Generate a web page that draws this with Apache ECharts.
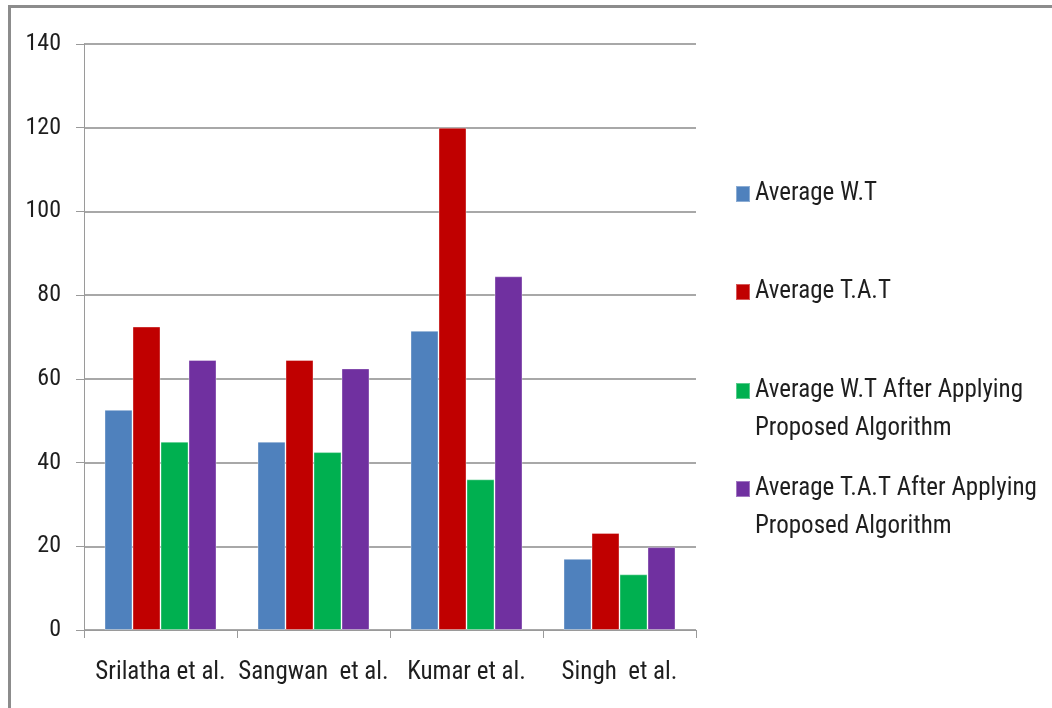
<!DOCTYPE html>
<html>
<head>
<meta charset="utf-8">
<title>Average W.T and T.A.T comparison</title>
<script src="https://cdn.jsdelivr.net/npm/echarts@6/dist/echarts.min.js"></script>
<style>
  html, body { margin: 0; padding: 0; background: #ffffff; }
  #chart { width: 1052px; height: 708px; }
</style>
</head>
<body>
<div id="chart"></div>
<script>
// Studies compared on the x axis
const categories = ['Srilatha et al.', 'Sangwan  et al.', 'Kumar et al.', 'Singh  et al.'];

// Series names (legend entries)
const seriesNames = [
  'Average W.T',
  'Average T.A.T',
  'Average W.T After Applying Proposed Algorithm',
  'Average T.A.T After Applying Proposed Algorithm'
];

// Values per study, one array per series
const avgWT          = [52.6, 45.0, 71.5, 17.0];
const avgTAT         = [72.5, 64.5, 120.0, 23.2];
const avgWTProposed  = [45.0, 42.5, 36.0, 13.3];
const avgTATProposed = [64.5, 62.5, 84.5, 19.8];

// Value axis range
const yMin = 0;
const yMax = 140;
const yStep = 20;

const seriesColors = ['#4F81BD', '#C00000', '#00B050', '#7030A0'];
const seriesValues = [avgWT, avgTAT, avgWTProposed, avgTATProposed];

const FONT = '"Roboto Condensed", "Open Sans Condensed", "DejaVu Sans Condensed", sans-serif';
const TEXT_COLOR = '#1e1e1e';

// Legend entries: first-line vertical centre and text shown
const legendCenters = [194, 292, 391, 489];
const legendText = [
  'Average W.T',
  'Average T.A.T',
  ' \nAverage W.T After Applying\nProposed Algorithm',
  ' \nAverage T.A.T After Applying\nProposed Algorithm'
];
const LINE_H = 38;

const legends = seriesNames.map((name, i) => {
  const lines = legendText[i].split('\n').length;
  const h = lines * LINE_H;
  return {
    orient: 'vertical',
    left: 735,
    top: legendCenters[i] - h / 2,
    padding: 0,
    itemWidth: 14,
    itemHeight: 16,
    icon: 'rect',
    selectedMode: false,
    data: [name],
    formatter: () => legendText[i],
    textStyle: {
      fontFamily: FONT,
      fontSize: 25,
      lineHeight: LINE_H,
      color: TEXT_COLOR
    }
  };
});

const chart = echarts.init(document.getElementById('chart'), null, { renderer: 'canvas' });

chart.setOption({
  animation: false,
  backgroundColor: '#ffffff',
  graphic: [
    // frame lines along the top and left edges
    { type: 'rect', shape: { x: 8, y: 5, width: 1044, height: 3 }, style: { fill: '#8c8c8c' }, silent: true },
    { type: 'rect', shape: { x: 8, y: 5, width: 3, height: 703 }, style: { fill: '#8c8c8c' }, silent: true }
  ],
  legend: legends,
  grid: {
    left: 84,
    right: 356,
    top: 44,
    bottom: 78,
    containLabel: false
  },
  xAxis: {
    type: 'category',
    data: categories,
    boundaryGap: true,
    axisLine: { show: true, lineStyle: { color: '#9a9a9a', width: 1 } },
    axisTick: { show: true, length: 8, alignWithLabel: false, lineStyle: { color: '#9a9a9a', width: 1 } },
    axisLabel: {
      margin: 30,
      fontFamily: FONT,
      fontSize: 25,
      color: TEXT_COLOR,
      interval: 0
    },
    splitLine: { show: false }
  },
  yAxis: {
    type: 'value',
    min: yMin,
    max: yMax,
    interval: yStep,
    axisLine: { show: true, lineStyle: { color: '#9a9a9a', width: 1 } },
    axisTick: { show: true, length: 8, lineStyle: { color: '#9a9a9a', width: 1 } },
    axisLabel: {
      margin: 23,
      fontFamily: FONT,
      fontSize: 24,
      color: TEXT_COLOR
    },
    splitLine: { show: true, lineStyle: { color: '#a8a8a8', width: 2 } }
  },
  series: seriesNames.map((name, i) => ({
    name: name,
    type: 'bar',
    data: seriesValues[i],
    barWidth: 28,
    barGap: '0%',
    itemStyle: {
      color: seriesColors[i],
      borderColor: 'rgba(255,255,255,0.35)',
      borderWidth: 1
    }
  }))
});
</script>
</body>
</html>
